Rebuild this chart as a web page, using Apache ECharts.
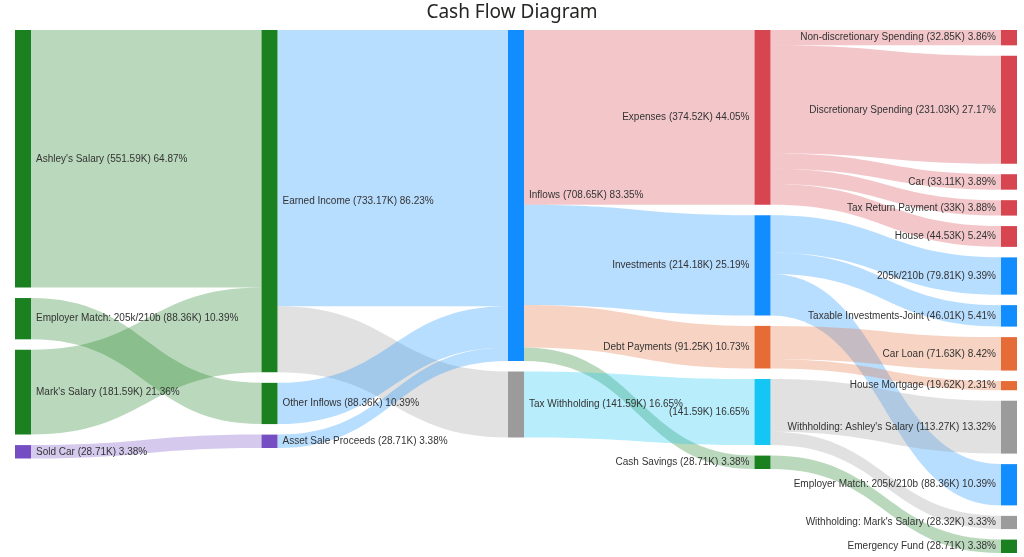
<!DOCTYPE html>
<html>
<head>
<meta charset="utf-8">
<script src="https://cdn.jsdelivr.net/npm/echarts@6/dist/echarts.min.js"></script>
<style>
html,body{margin:0;padding:0;background:#fff;}
#chart{width:1024px;height:557px;}
</style>
</head>
<body>
<div id="chart"></div>
<script>
// ---- Data (values in thousands) ----
const TOTAL = 850.25;

const nodeIds = [
  // column 0
  "Ashley's Salary", "Employer Match (in)", "Mark's Salary", "Sold Car",
  // column 1
  "Earned Income", "Other Inflows", "Asset Sale Proceeds",
  // column 2
  "Inflows", "Tax Withholding",
  // column 3
  "Expenses", "Investments", "Debt Payments", "Tax Detail", "Cash Savings",
  // column 4
  "Non-discretionary Spending", "Discretionary Spending", "Car", "Tax Return Payment", "House",
  "205k/210b", "Taxable Investments-Joint", "Car Loan", "House Mortgage",
  "Withholding: Ashley's Salary", "Employer Match (out)", "Withholding: Mark's Salary", "Emergency Fund"
];

const nodeLabels = [
  "Ashley's Salary", "Employer Match: 205k/210b", "Mark's Salary", "Sold Car",
  "Earned Income", "Other Inflows", "Asset Sale Proceeds",
  "Inflows", "Tax Withholding",
  "Expenses", "Investments", "Debt Payments", "", "Cash Savings",
  "Non-discretionary Spending", "Discretionary Spending", "Car", "Tax Return Payment", "House",
  "205k/210b", "Taxable Investments-Joint", "Car Loan", "House Mortgage",
  "Withholding: Ashley's Salary", "Employer Match: 205k/210b", "Withholding: Mark's Salary", "Emergency Fund"
];

const nodeValues = [
  551.59, 88.36, 181.59, 28.71,
  733.17, 88.36, 28.71,
  708.65, 141.59,
  374.52, 214.18, 91.25, 141.59, 28.71,
  32.85, 231.03, 33.11, 33, 44.53,
  79.81, 46.01, 71.63, 19.62,
  113.27, 88.36, 28.32, 28.71
];

const linkSources = [
  "Ashley's Salary", "Mark's Salary", "Employer Match (in)", "Sold Car",
  "Earned Income", "Earned Income", "Other Inflows", "Asset Sale Proceeds",
  "Inflows", "Inflows", "Inflows", "Inflows",
  "Tax Withholding",
  "Expenses", "Expenses", "Expenses", "Expenses", "Expenses",
  "Investments", "Investments", "Investments",
  "Debt Payments", "Debt Payments",
  "Tax Detail", "Tax Detail",
  "Cash Savings"
];
const linkTargets = [
  "Earned Income", "Earned Income", "Other Inflows", "Asset Sale Proceeds",
  "Inflows", "Tax Withholding", "Inflows", "Inflows",
  "Expenses", "Investments", "Debt Payments", "Cash Savings",
  "Tax Detail",
  "Non-discretionary Spending", "Discretionary Spending", "Car", "Tax Return Payment", "House",
  "205k/210b", "Taxable Investments-Joint", "Employer Match (out)",
  "Car Loan", "House Mortgage",
  "Withholding: Ashley's Salary", "Withholding: Mark's Salary",
  "Emergency Fund"
];
const linkValues = [
  551.59, 181.59, 88.36, 28.71,
  591.58, 141.59, 88.36, 28.71,
  374.52, 214.18, 91.25, 28.71,
  141.59,
  32.85, 231.03, 33.11, 33, 44.53,
  79.81, 46.01, 88.36,
  71.63, 19.62,
  113.27, 28.32,
  28.71
];

// ---- Styling ----
const GREEN = '#1b8020', PURPLE = '#744ec2', BLUE = '#118dff', GRAY = '#9b9b9b',
      RED = '#d64550', ORANGE = '#e66c37', CYAN = '#15c6f4';
const colorOf = {
  "Ashley's Salary": GREEN, "Employer Match (in)": GREEN, "Mark's Salary": GREEN, "Sold Car": PURPLE,
  "Earned Income": GREEN, "Other Inflows": GREEN, "Asset Sale Proceeds": PURPLE,
  "Inflows": BLUE, "Tax Withholding": GRAY,
  "Expenses": RED, "Investments": BLUE, "Debt Payments": ORANGE, "Tax Detail": CYAN, "Cash Savings": GREEN,
  "Non-discretionary Spending": RED, "Discretionary Spending": RED, "Car": RED, "Tax Return Payment": RED, "House": RED,
  "205k/210b": BLUE, "Taxable Investments-Joint": BLUE, "Employer Match (out)": BLUE,
  "Car Loan": ORANGE, "House Mortgage": ORANGE,
  "Withholding: Ashley's Salary": GRAY, "Withholding: Mark's Salary": GRAY, "Emergency Fund": GREEN
};

function fmtK(v) { return String(parseFloat(v.toFixed(2))); }

const labelById = {};
nodeIds.forEach((id, i) => {
  const pct = (nodeValues[i] / TOTAL * 100).toFixed(2);
  const name = nodeLabels[i];
  labelById[id] = (name ? name + ' ' : '') + '(' + fmtK(nodeValues[i]) + 'K) ' + pct + '%';
});

const nodes = nodeIds.map((id, i) => ({
  name: id,
  value: nodeValues[i],
  itemStyle: { color: colorOf[id] }
}));
const links = linkSources.map((s, i) => ({ source: s, target: linkTargets[i], value: linkValues[i] }));

const chart = echarts.init(document.getElementById('chart'), null, { renderer: 'canvas' });
chart.setOption({
  animation: false,
  backgroundColor: '#ffffff',
  title: {
    text: 'Cash Flow Diagram',
    left: 'center',
    top: 3,
    padding: 0,
    textStyle: { fontFamily: 'Noto Sans', fontSize: 19, fontWeight: 'normal', color: '#252423' }
  },
  series: [{
    type: 'sankey',
    left: 15,
    right: 7,
    top: 30,
    bottom: 4,
    nodeWidth: 16,
    nodeGap: 10.5,
    layoutIterations: 0,
    nodeAlign: 'justify',
    draggable: false,
    emphasis: { disabled: true },
    data: nodes,
    links: links,
    itemStyle: { borderWidth: 0 },
    lineStyle: { color: 'target', opacity: 0.3, curveness: 0.5 },
    label: {
      position: 'right',
      distance: 5,
      fontFamily: 'Liberation Sans',
      fontSize: 10,
      color: '#333333',
      formatter: p => labelById[p.name]
    },
    levels: [
      { depth: 3, label: { position: 'left' } },
      { depth: 4, label: { position: 'left' } }
    ]
  }]
});
</script>
</body>
</html>
